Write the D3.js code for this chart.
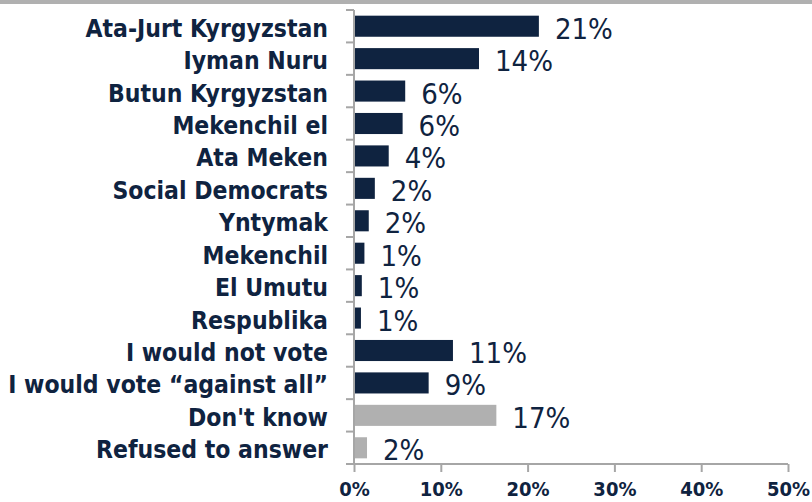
<!DOCTYPE html>
<html>
<head>
<meta charset="utf-8">
<script src="https://cdn.jsdelivr.net/npm/d3@7"></script>
<style>
  body { margin: 0; background: #fff; }
  svg { display: block; }
</style>
</head>
<body>
<div id="chart"></div>
<script>
// answers, top to bottom
const categories = ["Ata-Jurt Kyrgyzstan", "Iyman Nuru", "Butun Kyrgyzstan", "Mekenchil el", "Ata Meken",
  "Social Democrats", "Yntymak", "Mekenchil", "El Umutu", "Respublika",
  "I would not vote", "I would vote \u201cagainst all\u201d", "Don't know", "Refused to answer"]
// share of respondents (bar length)
const values = [21.3, 14.4, 5.9, 5.6, 4.0, 2.4, 1.7, 1.2, 0.9, 0.8, 11.4, 8.6, 16.4, 1.5]
// printed labels
const valueLabels = ["21%", "14%", "6%", "6%", "4%", "2%", "2%", "1%", "1%", "1%", "11%", "9%", "17%", "2%"]
// which rows are the grey "no answer" kind
const greyRows = ["Don't know", "Refused to answer"]
const xTicks = [0, 10, 20, 30, 40, 50]

const W = 812, H = 502
const margin = { top: 10, right: 24, bottom: 38, left: 354 }
const navy = "#0f2340"
const grey = "#b0b0b0"
const axisGrey = "#a6a6a6"
const condensed = "'DejaVu Sans Condensed', 'DejaVu Sans', sans-serif"

const svg = d3.select("#chart").append("svg")
  .attr("width", W)
  .attr("height", H)

// grey strip at the very top (edge of the slide header)
svg.append("rect")
  .attr("x", 0).attr("y", 0)
  .attr("width", W).attr("height", 4)
  .attr("fill", grey)

const x = d3.scaleLinear()
  .domain([0, 50])
  .range([margin.left, 788])

const y = d3.scaleBand()
  .domain(categories)
  .range([margin.top, H - margin.bottom])
  .paddingInner(0.35)
  .paddingOuter(0.175)

const data = categories.map((c, i) => ({ name: c, value: values[i], label: valueLabels[i] }))

// bars
svg.selectAll("rect.bar")
  .data(data)
  .enter()
  .append("rect")
  .attr("class", "bar")
  .attr("x", x(0))
  .attr("y", d => y(d.name))
  .attr("width", d => x(d.value) - x(0))
  .attr("height", y.bandwidth())
  .attr("fill", d => greyRows.includes(d.name) ? grey : navy)

// value labels
svg.selectAll("text.val")
  .data(data)
  .enter()
  .append("text")
  .attr("class", "val")
  .attr("x", d => x(d.value) + 16)
  .attr("y", d => y(d.name) + y.bandwidth() / 2)
  .attr("dy", "0.43em")
  .style("font-family", "'Liberation Sans Narrow', 'DejaVu Sans Condensed', sans-serif")
  .style("font-size", "29px")
  .attr("fill", navy)
  .text(d => d.label)

// category labels
svg.selectAll("text.cat")
  .data(data)
  .enter()
  .append("text")
  .attr("class", "cat")
  .attr("x", margin.left - 26)
  .attr("y", d => y(d.name) + y.bandwidth() / 2)
  .attr("dy", "0.43em")
  .attr("text-anchor", "end")
  .style("font-family", condensed)
  .style("font-stretch", "condensed")
  .style("font-weight", "bold")
  .style("font-size", "24.5px")
  .attr("fill", navy)
  .text(d => d.name)

// y axis line with ticks on band edges
const step = y.step()
const edges = categories.map(c => y(c) - step * y.paddingInner() / 2)
edges.push(H - margin.bottom)
const yAxis = svg.append("g")
yAxis.append("line")
  .attr("x1", x(0)).attr("x2", x(0))
  .attr("y1", margin.top).attr("y2", H - margin.bottom)
  .attr("stroke", axisGrey).attr("stroke-width", 2)
yAxis.selectAll("line.tk")
  .data(edges)
  .enter()
  .append("line")
  .attr("class", "tk")
  .attr("x1", x(0) - 8).attr("x2", x(0))
  .attr("y1", d => d).attr("y2", d => d)
  .attr("stroke", axisGrey).attr("stroke-width", 2)

// x axis
const xAxis = svg.append("g")
  .attr("transform", `translate(0,${H - margin.bottom})`)
  .call(d3.axisBottom(x).tickValues(xTicks).tickSize(8).tickSizeOuter(0).tickPadding(10).tickFormat(d => d + "%"))

xAxis.select(".domain")
  .attr("stroke", axisGrey).attr("stroke-width", 2)
  .attr("d", `M${x(0) - 8},0H${x(50)}`)
xAxis.selectAll(".tick line").attr("stroke", axisGrey).attr("stroke-width", 2)
xAxis.selectAll(".tick text")
  .attr("fill", navy)
  .style("font-family", condensed)
  .style("font-stretch", "condensed")
  .style("font-weight", "bold")
  .style("font-size", "20px")
</script>
</body>
</html>
